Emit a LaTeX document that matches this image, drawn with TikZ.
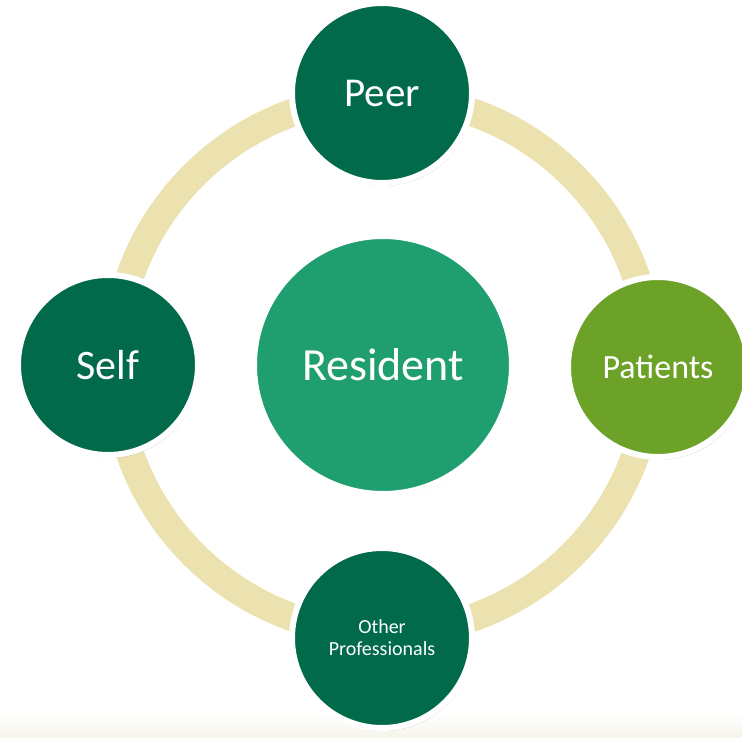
\documentclass[tikz,border=0pt]{standalone}
\usepackage{fontspec}
\setmainfont{Carlito}
\usetikzlibrary{shadows}
\definecolor{ringcol}{RGB}{236,226,176}
\definecolor{darkgreen}{RGB}{0,106,74}
\definecolor{midgreen}{RGB}{31,159,111}
\definecolor{leafgreen}{RGB}{108,162,40}
\definecolor{bandcol}{RGB}{246,244,234}
\tikzset{
  bubble/.style={circle, draw=white, line width=7pt, text=white, align=center, inner sep=0pt,
    drop shadow={shadow xshift=1.5pt, shadow yshift=-3pt, opacity=0.3, fill=black!55}},
  satellite/.style={bubble, line width=6pt, minimum size=180pt},
}
\begin{document}
\begin{tikzpicture}[x=1pt, y=-1pt]
\useasboundingbox (0,0) rectangle (742,738);
\fill[white] (0,0) rectangle (742,738);
\shade[top color=white, bottom color=bandcol] (0,712) rectangle (742,738);
\coordinate (c) at (383,365);
\draw[ringcol, line width=28pt] (c) circle[radius=268pt];
\node[bubble, fill=midgreen, minimum size=259pt, font=\fontsize{46}{50}\selectfont] (res) at (c) {Resident};
\node[satellite, fill=darkgreen, font=\fontsize{41}{45}\selectfont] (peer) at (382,93) {Peer};
\node[satellite, fill=darkgreen, font=\fontsize{42}{46}\selectfont] (self) at (108,365) {Self};
\node[satellite, fill=leafgreen, font=\fontsize{34}{38}\selectfont] (pat) at (658,367) {Patients};
\node[satellite, fill=darkgreen, font=\fontsize{20}{22}\selectfont] (oth) at (382,638) {Other\\Professionals};
\end{tikzpicture}
\end{document}
